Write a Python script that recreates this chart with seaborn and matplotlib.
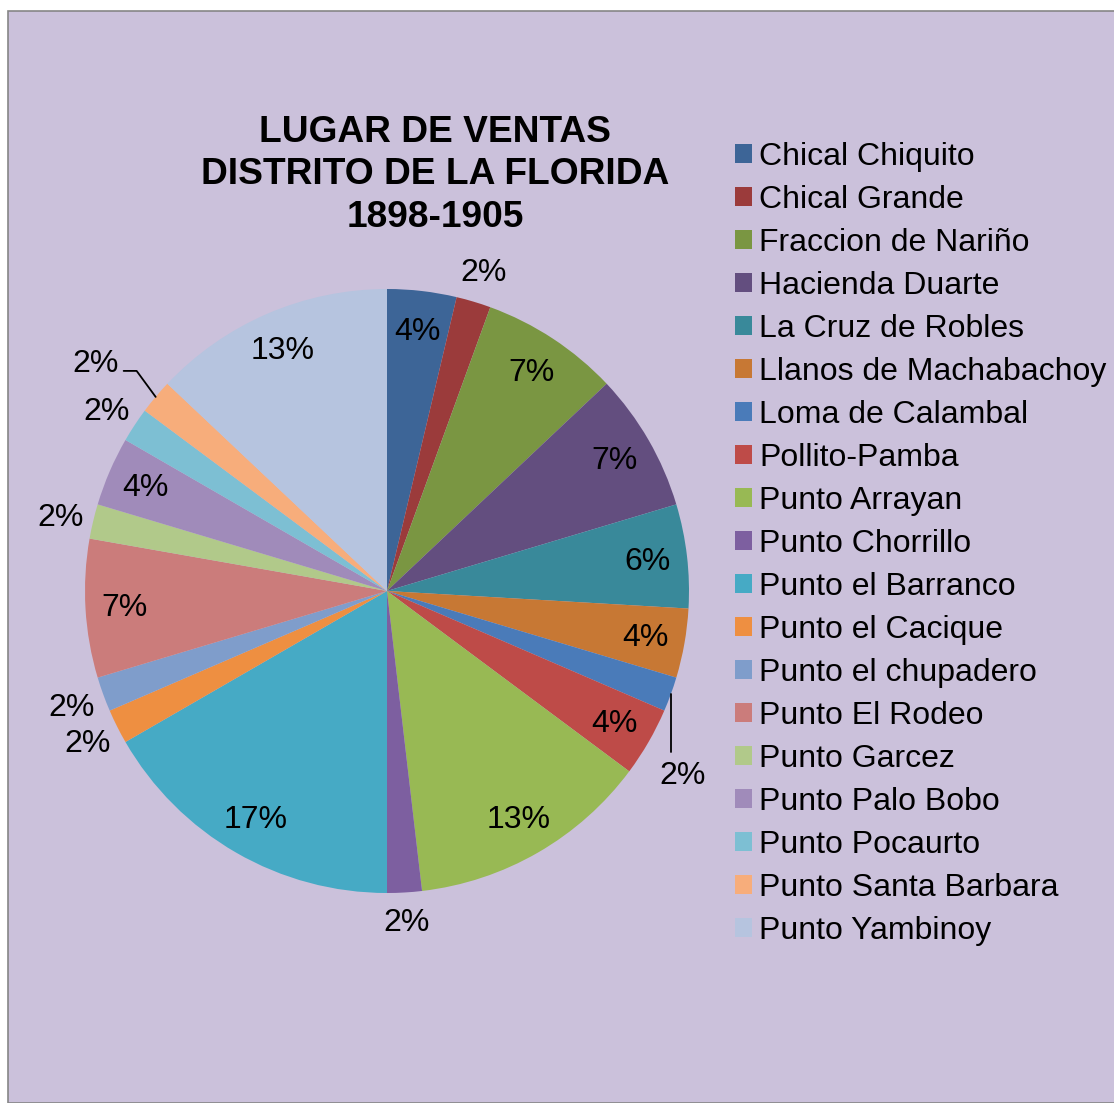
import numpy as np
import matplotlib
matplotlib.use("Agg")
import matplotlib.pyplot as plt
import matplotlib.patches as mpatches
import seaborn as sns

# ---- data ----
categories = ["Chical Chiquito", "Chical Grande", "Fraccion de Nariño", "Hacienda Duarte",
              "La Cruz de Robles", "Llanos de Machabachoy", "Loma de Calambal", "Pollito-Pamba",
              "Punto Arrayan", "Punto Chorrillo", "Punto el Barranco", "Punto el Cacique",
              "Punto el chupadero", "Punto El Rodeo", "Punto Garcez", "Punto Palo Bobo",
              "Punto Pocaurto", "Punto Santa Barbara", "Punto Yambinoy"]
counts = [2, 1, 4, 4, 3, 2, 1, 2, 7, 1, 9, 1, 1, 4, 1, 2, 1, 1, 7]
title_lines = ["LUGAR DE VENTAS", "DISTRITO DE LA FLORIDA", "1898-1905"]

colors_hex = ["#3D6597", "#9B3B3B", "#7A9642", "#634E7F", "#39899A", "#C77834",
              "#4A7BB9", "#BE4B48", "#98B954", "#7D5FA0", "#46AAC5", "#EE8F41",
              "#7F9DCB", "#CB7C7B", "#B1C98A", "#A08BBA", "#7DBFD3", "#F7AD7B", "#B6C4DF"]

sns.set_style("white")
plt.rcParams['font.family'] = ['Liberation Sans', 'DejaVu Sans']
plt.rcParams['text.color'] = 'black'
palette = sns.color_palette(colors_hex)

W, H = 1114, 1103
fig = plt.figure(figsize=(W / 100, H / 100), dpi=100)
fig.patch.set_facecolor("white")

bg = "#CBC1DB"
rect = mpatches.Rectangle((7.5 / W, 0), 1.0, 1 - 10.5 / H, transform=fig.transFigure,
                          facecolor=bg, edgecolor="#868686", linewidth=1.2, zorder=-5)
fig.patches.append(rect)

# pie axes: centre (387, 591), radius 302 px
cx, cy, R = 387, 591, 302
ax = fig.add_axes([(cx - R) / W, (H - cy - R) / H, 2 * R / W, 2 * R / H])
ax.set_zorder(2)
ax.set_facecolor("none")
wedges, _ = ax.pie(counts, colors=palette, startangle=90, counterclock=False,
                   radius=1.0, wedgeprops=dict(linewidth=0))
ax.set_xlim(-1, 1)
ax.set_ylim(-1, 1)
ax.set_aspect("equal")
ax.axis("off")

total = sum(counts)
fs = 23
for i, (w, c) in enumerate(zip(wedges, counts)):
    pct = f"{round(100 * c / total):.0f}%"
    mid = np.deg2rad((w.theta1 + w.theta2) / 2)
    ux, uy = np.cos(mid), np.sin(mid)
    if categories[i] == "Loma de Calambal":
        ex, ey = ux, uy
        ax.plot([ex, ex], [ey, ey - 0.19], color="black", lw=1.3, clip_on=False)
        ax.text(ex + 0.04, ey - 0.27, pct, ha="center", va="center", fontsize=fs)
    elif categories[i] == "Punto Santa Barbara":
        ex, ey = ux, uy
        kx, ky = ex - 0.063, ey + 0.086
        ax.plot([ex, kx, kx - 0.043], [ey, ky, ky], color="black", lw=1.3, clip_on=False)
        ax.text(kx - 0.06, ky + 0.022, pct, ha="right", va="center", fontsize=fs)
    elif c == 1:
        dy = -0.012 if ux < 0 else 0.0
        ax.text(1.11 * ux, 1.1 * uy + dy, pct, ha="center", va="center", fontsize=fs)
    else:
        ax.text(0.87 * ux, 0.87 * uy - 0.005, pct, ha="center", va="center", fontsize=fs)

# title
fig.text(435 / W, 1 - 175 / H, "\n".join(title_lines), ha="center", va="center",
         fontsize=26.7, fontweight="bold", linespacing=1.28)

# legend
leg = fig.legend(wedges, categories, loc="upper left",
                 bbox_to_anchor=(735 / W, 1 - 142 / H), frameon=False,
                 fontsize=fs, handlelength=0.54, handleheight=0.54,
                 handletextpad=0.22, labelspacing=0.407, borderpad=0, borderaxespad=0)

fig.savefig("out.png", dpi=100, facecolor=fig.get_facecolor())
